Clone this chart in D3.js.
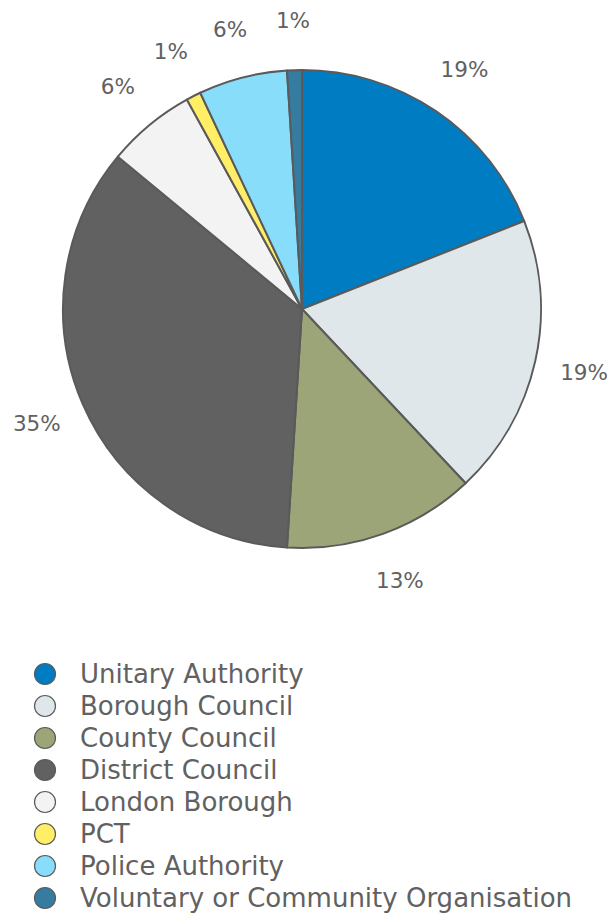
<!DOCTYPE html>
<html>
<head>
<meta charset="utf-8">
<script src="https://cdn.jsdelivr.net/npm/d3@7"></script>
<style>
  html, body { margin: 0; padding: 0; background: #ffffff; }
  svg { display: block; }
</style>
</head>
<body>
<svg id="chart" width="614" height="914"></svg>
<script>
// Share of organisations by type (percent)
const categories = [
  "Unitary Authority",
  "Borough Council",
  "County Council",
  "District Council",
  "London Borough",
  "PCT",
  "Police Authority",
  "Voluntary or Community Organisation"
];
const values = [19, 19, 13, 35, 6, 1, 6, 1];
const colors = ["#007CC3", "#E0E7EB", "#9CA577", "#616161", "#F3F3F3", "#FFEE66", "#88DDFB", "#367BA0"];

const svg = d3.select("#chart");
const font = "'DejaVu Sans', Verdana, sans-serif";
const textColor = "#616161";
const cx = 302, cy = 309, radius = 239, labelRadius = 289;

const data = categories.map((c, i) => ({ category: c, value: values[i] }));

const pie = d3.pie().value(d => d.value).sort(null);
const arc = d3.arc().innerRadius(0).outerRadius(radius);
const labelArc = d3.arc().innerRadius(labelRadius).outerRadius(labelRadius);
const color = d3.scaleOrdinal().domain(categories).range(colors);

const arcs = pie(data);
const g = svg.append("g").attr("transform", `translate(${cx},${cy})`);

g.selectAll("path.slice")
  .data(arcs)
  .join("path")
  .attr("class", "slice")
  .attr("d", arc)
  .attr("fill", d => color(d.data.category))
  .attr("stroke", "#5a5a5a")
  .attr("stroke-width", 2)
  .attr("stroke-linejoin", "round");

g.selectAll("text.pct")
  .data(arcs)
  .join("text")
  .attr("class", "pct")
  .attr("transform", d => `translate(${labelArc.centroid(d)})`)
  .attr("text-anchor", "middle")
  .attr("dominant-baseline", "central")
  .attr("font-family", font)
  .attr("font-size", 21.5)
  .attr("fill", textColor)
  .text(d => d.data.value + "%");

// Legend
const legendY = d3.scaleBand().domain(categories).range([658, 914]).paddingInner(0);
const legend = svg.append("g");
const rows = legend.selectAll("g.row")
  .data(categories)
  .join("g")
  .attr("class", "row")
  .attr("transform", d => `translate(0,${legendY(d) + legendY.bandwidth() / 2})`);

rows.append("circle")
  .attr("cx", 45)
  .attr("cy", 0)
  .attr("r", 10.5)
  .attr("fill", d => color(d))
  .attr("stroke", "#5a5a5a")
  .attr("stroke-width", 1.2);

rows.append("text")
  .attr("x", 80)
  .attr("y", 0)
  .attr("dominant-baseline", "central")
  .attr("font-family", font)
  .attr("font-size", 26)
  .attr("fill", textColor)
  .text(d => d);
</script>
</body>
</html>
